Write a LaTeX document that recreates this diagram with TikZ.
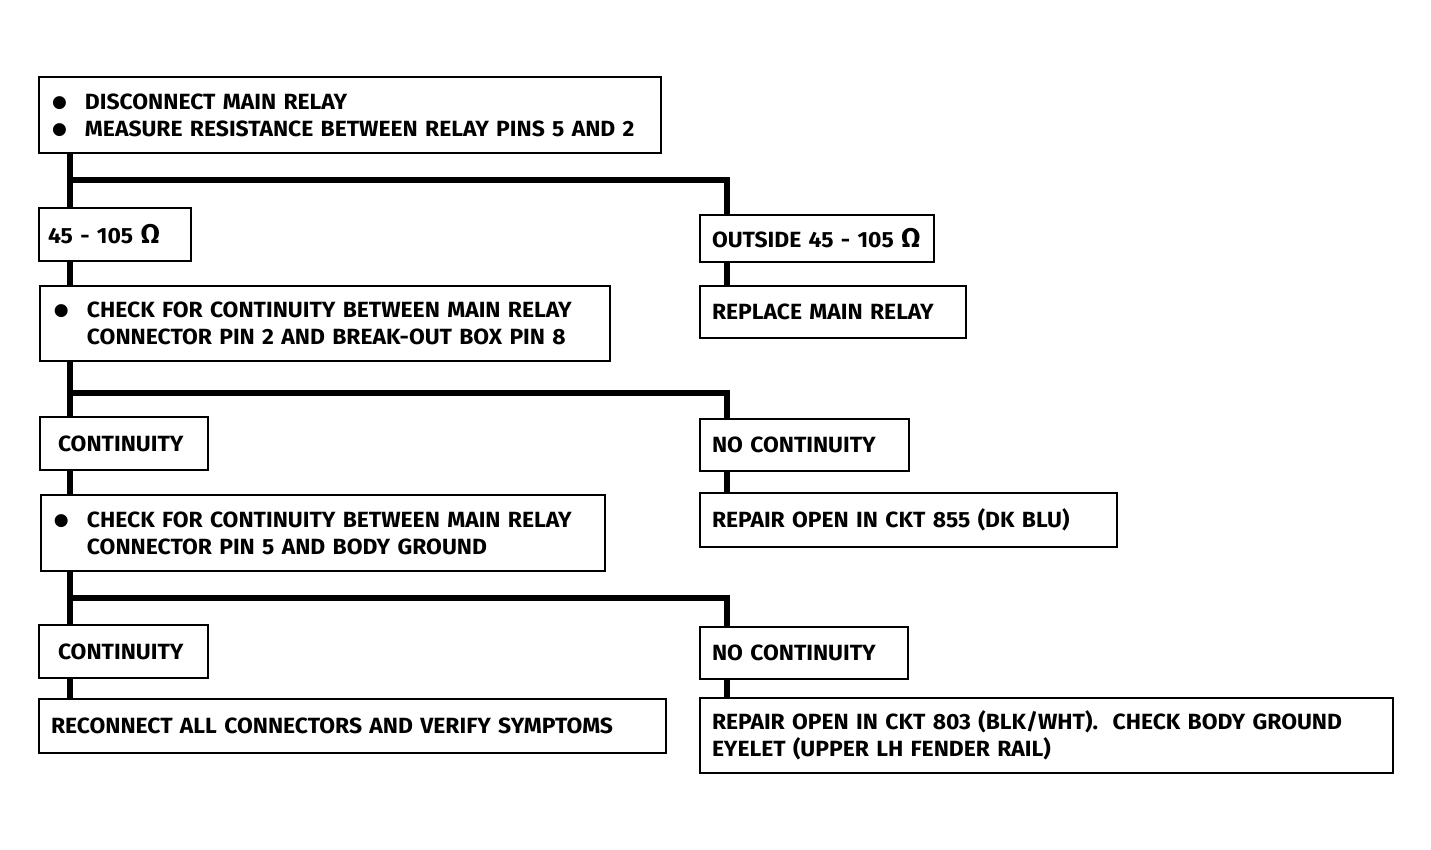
\documentclass[tikz,border=0pt]{standalone}
\usepackage{fontspec}
\setmainfont[FakeStretch=1.04]{Fira Sans}
\newfontfamily\dotfont{DejaVu Sans}
\tikzset{box/.style={draw, line width=1pt, anchor=north west, inner ysep=0pt, align=left,
    font=\bfseries\fontsize{11}{13.6}\selectfont},
  link/.style={line width=3pt}}
\newcommand{\bul}{\makebox[16.5pt][l]{\raisebox{0.9pt}{\dotfont\fontsize{8.5}{8.5}\selectfont ●}}}
\newcommand{\ohm}{{\fontsize{13.5}{12}\selectfont Ω}}

\begin{document}
\begin{tikzpicture}[x=0.5pt,y=-0.5pt]
\useasboundingbox (0,0) rectangle (1431,850);

% left column
\node[box, inner xsep=6.5pt, text width=298pt, minimum height=38pt] (relay) at (38,76)
  {\bul DISCONNECT MAIN RELAY\\\bul MEASURE RESISTANCE BETWEEN RELAY PINS 5 AND 2};
\node[box, inner xsep=4.5pt, text width=67pt, minimum height=26.5pt] (ohm) at (38,207)
  {45 - 105 \ohm};
\node[box, inner xsep=7pt, text width=271pt, minimum height=37.5pt] (check2) at (39,285)
  {\bul CHECK FOR CONTINUITY BETWEEN MAIN RELAY\\\hspace*{16.5pt}CONNECTOR PIN 2 AND BREAK-OUT BOX PIN 8};
\node[box, inner xsep=9pt, text width=66pt, minimum height=26.5pt] (cont1) at (39,416)
  {CONTINUITY};
\node[box, inner xsep=6.5pt, text width=269pt, minimum height=38pt] (check5) at (40,494)
  {\bul CHECK FOR CONTINUITY BETWEEN MAIN RELAY\\\hspace*{16.5pt}CONNECTOR PIN 5 AND BODY GROUND};
\node[box, inner xsep=9.5pt, text width=65.5pt, minimum height=26.5pt] (cont2) at (38,624)
  {CONTINUITY};
\node[box, inner xsep=6pt, text width=301.5pt, minimum height=27pt] (reconnect) at (38,698)
  {RECONNECT ALL CONNECTORS AND VERIFY SYMPTOMS};

% right column
\node[box, inner xsep=6pt, text width=105pt, minimum height=23.5pt] (outside) at (699,214)
  {OUTSIDE 45 - 105 \ohm};
\node[box, inner xsep=6pt, text width=121pt, minimum height=26pt] (replace) at (699,285)
  {REPLACE MAIN RELAY};
\node[box, inner xsep=6pt, text width=92.5pt, minimum height=26pt] (nocont1) at (699,418)
  {NO CONTINUITY};
\node[box, inner xsep=6pt, text width=196.5pt, minimum height=27pt] (repair855) at (699,492)
  {REPAIR OPEN IN CKT 855 (DK BLU)};
\node[box, inner xsep=6pt, text width=92pt, minimum height=26pt] (nocont2) at (699,626)
  {NO CONTINUITY};
\node[box, inner xsep=6pt, text width=334.5pt, minimum height=37.5pt] (repair803) at (699,697)
  {REPAIR OPEN IN CKT 803 (BLK/WHT).\ \ CHECK BODY GROUND\\EYELET (UPPER LH FENDER RAIL)};

% connectors
\coordinate (lx) at (70,0);
\coordinate (rx) at (727,0);
\coordinate (j1) at (0,180);
\coordinate (j2) at (0,393);
\coordinate (j3) at (0,598);

\draw[link] (relay.south -| lx) -- (ohm.north -| lx);
\draw[link] (j1 -| lx) -| (outside.north -| rx);
\draw[link] (ohm.south -| lx) -- (check2.north -| lx);
\draw[link] (outside.south -| rx) -- (replace.north -| rx);

\draw[link] (check2.south -| lx) -- (cont1.north -| lx);
\draw[link] (j2 -| lx) -| (nocont1.north -| rx);
\draw[link] (cont1.south -| lx) -- (check5.north -| lx);
\draw[link] (nocont1.south -| rx) -- (repair855.north -| rx);

\draw[link] (check5.south -| lx) -- (cont2.north -| lx);
\draw[link] (j3 -| lx) -| (nocont2.north -| rx);
\draw[link] (cont2.south -| lx) -- (reconnect.north -| lx);
\draw[link] (nocont2.south -| rx) -- (repair803.north -| rx);
\end{tikzpicture}
\end{document}
